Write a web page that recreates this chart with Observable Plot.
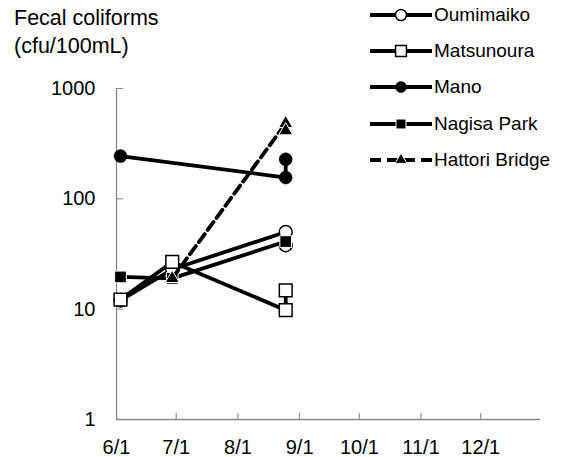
<!DOCTYPE html>
<html>
<head>
<meta charset="utf-8">
<script src="https://cdn.jsdelivr.net/npm/d3@7"></script>
<script src="https://cdn.jsdelivr.net/npm/@observablehq/plot@0.6"></script>
<style>
  body { margin: 0; background: white; font-family: "Liberation Sans", Arial, sans-serif; }
  #wrap { position: relative; width: 581px; height: 457px; overflow: hidden; }
  #title { position: absolute; left: 14px; top: 4px; font-size: 21.5px; line-height: 28px; color: black; white-space: nowrap; }
  #legend { position: absolute; left: 0; top: 0; }
  .row { position: absolute; left: 368px; height: 24px; display: flex; align-items: center; font-size: 19px; white-space: nowrap; }
  .row svg { display: block; flex: none; }
</style>
</head>
<body>
<div id="wrap">
  <div id="chart"></div>
  <div id="title">Fecal coliforms<br>(cfu/100mL)</div>
  <div id="legend"></div>
</div>
<script>
// ---- data ----
const sites = ["Oumimaiko", "Matsunoura", "Mano", "Nagisa Park", "Hattori Bridge"];
const sampleDates = ["2010-06-03", "2010-06-29", "2010-08-25", "2010-08-25"];
const oumimaiko  = [12, 23, 50, 38];
const matsunoura = [12.2, 26.8, 9.8, 14.8];
const mano       = [244, null, 156, 228];
const nagisaPark = [19.6, 19, 41, null];
const hattori    = [null, 19, 483, 414];
const yTicks = [1, 10, 100, 1000];
const xTickDates = ["2010-06-01", "2010-07-01", "2010-08-01", "2010-09-01", "2010-10-01", "2010-11-01", "2010-12-01"];
const xDomain = ["2010-06-01", "2010-12-31"];

const seriesValues = [oumimaiko, matsunoura, mano, nagisaPark, hattori];
const styles = [
  {symbol: "circle",   fill: "white", stroke: "black", strokeWidth: 1.5, r: 6.5, dash: null},
  {symbol: "square",   fill: "white", stroke: "black", strokeWidth: 1.5, r: 7.2, dash: null},
  {symbol: "circle",   fill: "black", stroke: "black", strokeWidth: 0.5, r: 6.5, dash: null},
  {symbol: "square",   fill: "black", stroke: "white", strokeWidth: 1,   r: 6.6, dash: null},
  {symbol: "triangle", fill: "black", stroke: "white", strokeWidth: 1,   r: 5.2, dash: "10,5"}
];

const parse = d3.utcParse("%Y-%m-%d");
const marks = [];
marks.push(Plot.ruleY([1], {stroke: "#868686", strokeWidth: 1.3}));
marks.push(Plot.ruleX([parse(xDomain[0])], {stroke: "#868686", strokeWidth: 1.3}));

sites.forEach((site, i) => {
  const rows = sampleDates
    .map((d, j) => ({site, date: parse(d), value: seriesValues[i][j]}))
    .filter(r => r.value != null);
  const s = styles[i];
  marks.push(Plot.line(rows, {x: "date", y: "value", stroke: "black", strokeWidth: 3.8,
    strokeDasharray: s.dash, strokeLinejoin: "round"}));
  marks.push(Plot.dot(rows, {x: "date", y: "value", symbol: s.symbol, r: s.r,
    fill: s.fill, stroke: s.stroke, strokeWidth: s.strokeWidth}));
});

marks.push(Plot.axisX({ticks: xTickDates.map(parse), tickFormat: d3.utcFormat("%-m/%-d"),
  tickSize: -6, tickPadding: 26, stroke: "#868686", fill: "black", label: null}));
marks.push(Plot.axisY({ticks: yTicks, tickFormat: d3.format("d"),
  tickSize: -7, tickPadding: 28, stroke: "#868686", fill: "black", label: null}));

const chart = Plot.plot({
  width: 581,
  height: 457,
  marginLeft: 116,
  marginRight: 41,
  marginTop: 88,
  marginBottom: 38,
  style: {fontFamily: "'Liberation Sans', Arial, sans-serif", fontSize: "20px", background: "white", color: "black"},
  x: {type: "utc", domain: xDomain.map(parse), label: null},
  y: {type: "log", domain: [1, 1000], label: null},
  marks
});
document.getElementById("chart").appendChild(chart);

// ---- legend ----
const legend = d3.select("#legend");
const rowCenters = [15, 51, 87, 124, 160];
sites.forEach((site, i) => {
  const s = styles[i];
  const row = legend.append("div").attr("class", "row").style("top", (rowCenters[i] - 12) + "px");
  const svg = row.append("svg").attr("width", 66).attr("height", 24);
  svg.append("line").attr("x1", 2).attr("x2", 64).attr("y1", 12).attr("y2", 12)
    .attr("stroke", "black").attr("stroke-width", 3.8)
    .attr("stroke-dasharray", s.dash ? "11,6" : null);
  const sym = d3.symbol().type(s.symbol === "circle" ? d3.symbolCircle : s.symbol === "square" ? d3.symbolSquare : d3.symbolTriangle)
    .size(Math.PI * (s.r * 0.85) ** 2);
  svg.append("path").attr("d", sym()).attr("transform", "translate(33,12)")
    .attr("fill", s.fill).attr("stroke", s.stroke).attr("stroke-width", s.strokeWidth);
  row.append("span").text(site);
});
</script>
</body>
</html>
